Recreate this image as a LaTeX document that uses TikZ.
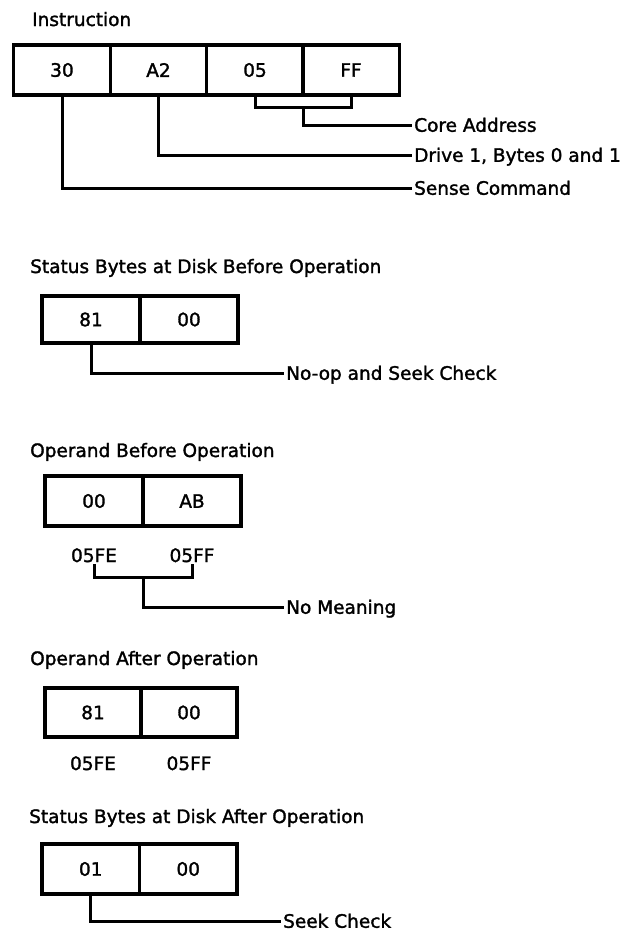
\documentclass[tikz,border=0pt]{standalone}
\usepackage{fontspec}
\setmainfont{DejaVu Sans}[FakeBold=1.6]
\usepackage{tikz}
\usetikzlibrary{positioning}

\newcommand{\dfont}{\fontsize{18.5}{20}\selectfont}

\begin{document}
\begin{tikzpicture}[
    x=1pt, y=-1pt,
    cell/.style={rectangle, draw, line width=3.4pt, inner sep=0pt, outer sep=0pt,
                 minimum width=97pt, minimum height=49pt, font=\dfont},
    title/.style={anchor=base west, inner sep=0pt, font=\dfont},
    lbl/.style={anchor=west, inner xsep=2pt, inner ysep=0pt, text height=13.5pt,
                text depth=0pt, font=\dfont},
    addr/.style={anchor=base, inner sep=0pt, text height=13.5pt, text depth=0pt, font=\dfont},
    conn/.style={line width=3pt}
]
\useasboundingbox (0,0) rectangle (629,932);

\node[title] (tinstr) at (32,26) {Instruction};
\node[cell, minimum width=96.5pt, minimum height=50pt] (i30) at (62,70)    {30};
\node[cell, minimum width=96.5pt, minimum height=50pt] (iA2) at (158.5,70) {A2};
\node[cell, minimum width=96.5pt, minimum height=50pt] (i05) at (255,70)   {05};
\node[cell, minimum width=96.5pt, minimum height=50pt] (iFF) at (351,70)   {FF};
\node[lbl] (core)  at (412,125) {Core Address};
\node[lbl] (drive) at (412,155) {Drive 1, Bytes 0 and 1};
\node[lbl] (sense) at (412,188) {Sense Command};

\draw[conn] (i30.south) |- (sense.west);
\draw[conn] (iA2.south) |- (drive.west);
\draw[conn] (i05.south) -- ++(0,12) -| coordinate[pos=0.25] (cj) (iFF.south);
\draw[conn] (cj) |- (core.west);

\node[title] (tsb) at (30,273) {Status Bytes at Disk Before Operation};
\node[cell, minimum width=98pt, minimum height=47pt] (sb81) at (91,319.5)  {81};
\node[cell, minimum width=98pt, minimum height=47pt] (sb00) at (189,319.5) {00};
\node[lbl] (noop) at (284,373) {No-op and Seek Check};
\draw[conn] (sb81.south) |- (noop.west);

\node[title] (tob) at (30,457) {Operand Before Operation};
\node[cell, minimum width=98pt, minimum height=50pt] (ob00) at (94,501)  {00};
\node[cell, minimum width=98pt, minimum height=50pt] (obAB) at (192,501) {AB};
\node[addr] (ofe) at (94,562)  {05FE};
\node[addr] (off) at (192,562) {05FF};
\node[lbl] (nomean) at (284,607) {No Meaning};
\draw[conn] ([yshift=-2pt]ofe.south) -- ++(0,13) -| coordinate[pos=0.25] (nj) ([yshift=-2pt]off.south);
\draw[conn] (nj) |- (nomean.west);

\node[title] (toa) at (30,665) {Operand After Operation};
\node[cell, minimum width=96pt, minimum height=49pt] (oa81) at (93,712.5)  {81};
\node[cell, minimum width=96pt, minimum height=49pt] (oa00) at (189,712.5) {00};
\node[addr] (afe) at (93,770)  {05FE};
\node[addr] (aff) at (189,770) {05FF};

\node[title] (tsa) at (29,823) {Status Bytes at Disk After Operation};
\node[cell, minimum width=97.5pt, minimum height=50pt] (sa01) at (90.75,869)  {01};
\node[cell, minimum width=97.5pt, minimum height=50pt] (sa00) at (188.25,869) {00};
\node[lbl] (seek) at (281,921) {Seek Check};
\draw[conn] (sa01.south) |- (seek.west);
\end{tikzpicture}
\end{document}
